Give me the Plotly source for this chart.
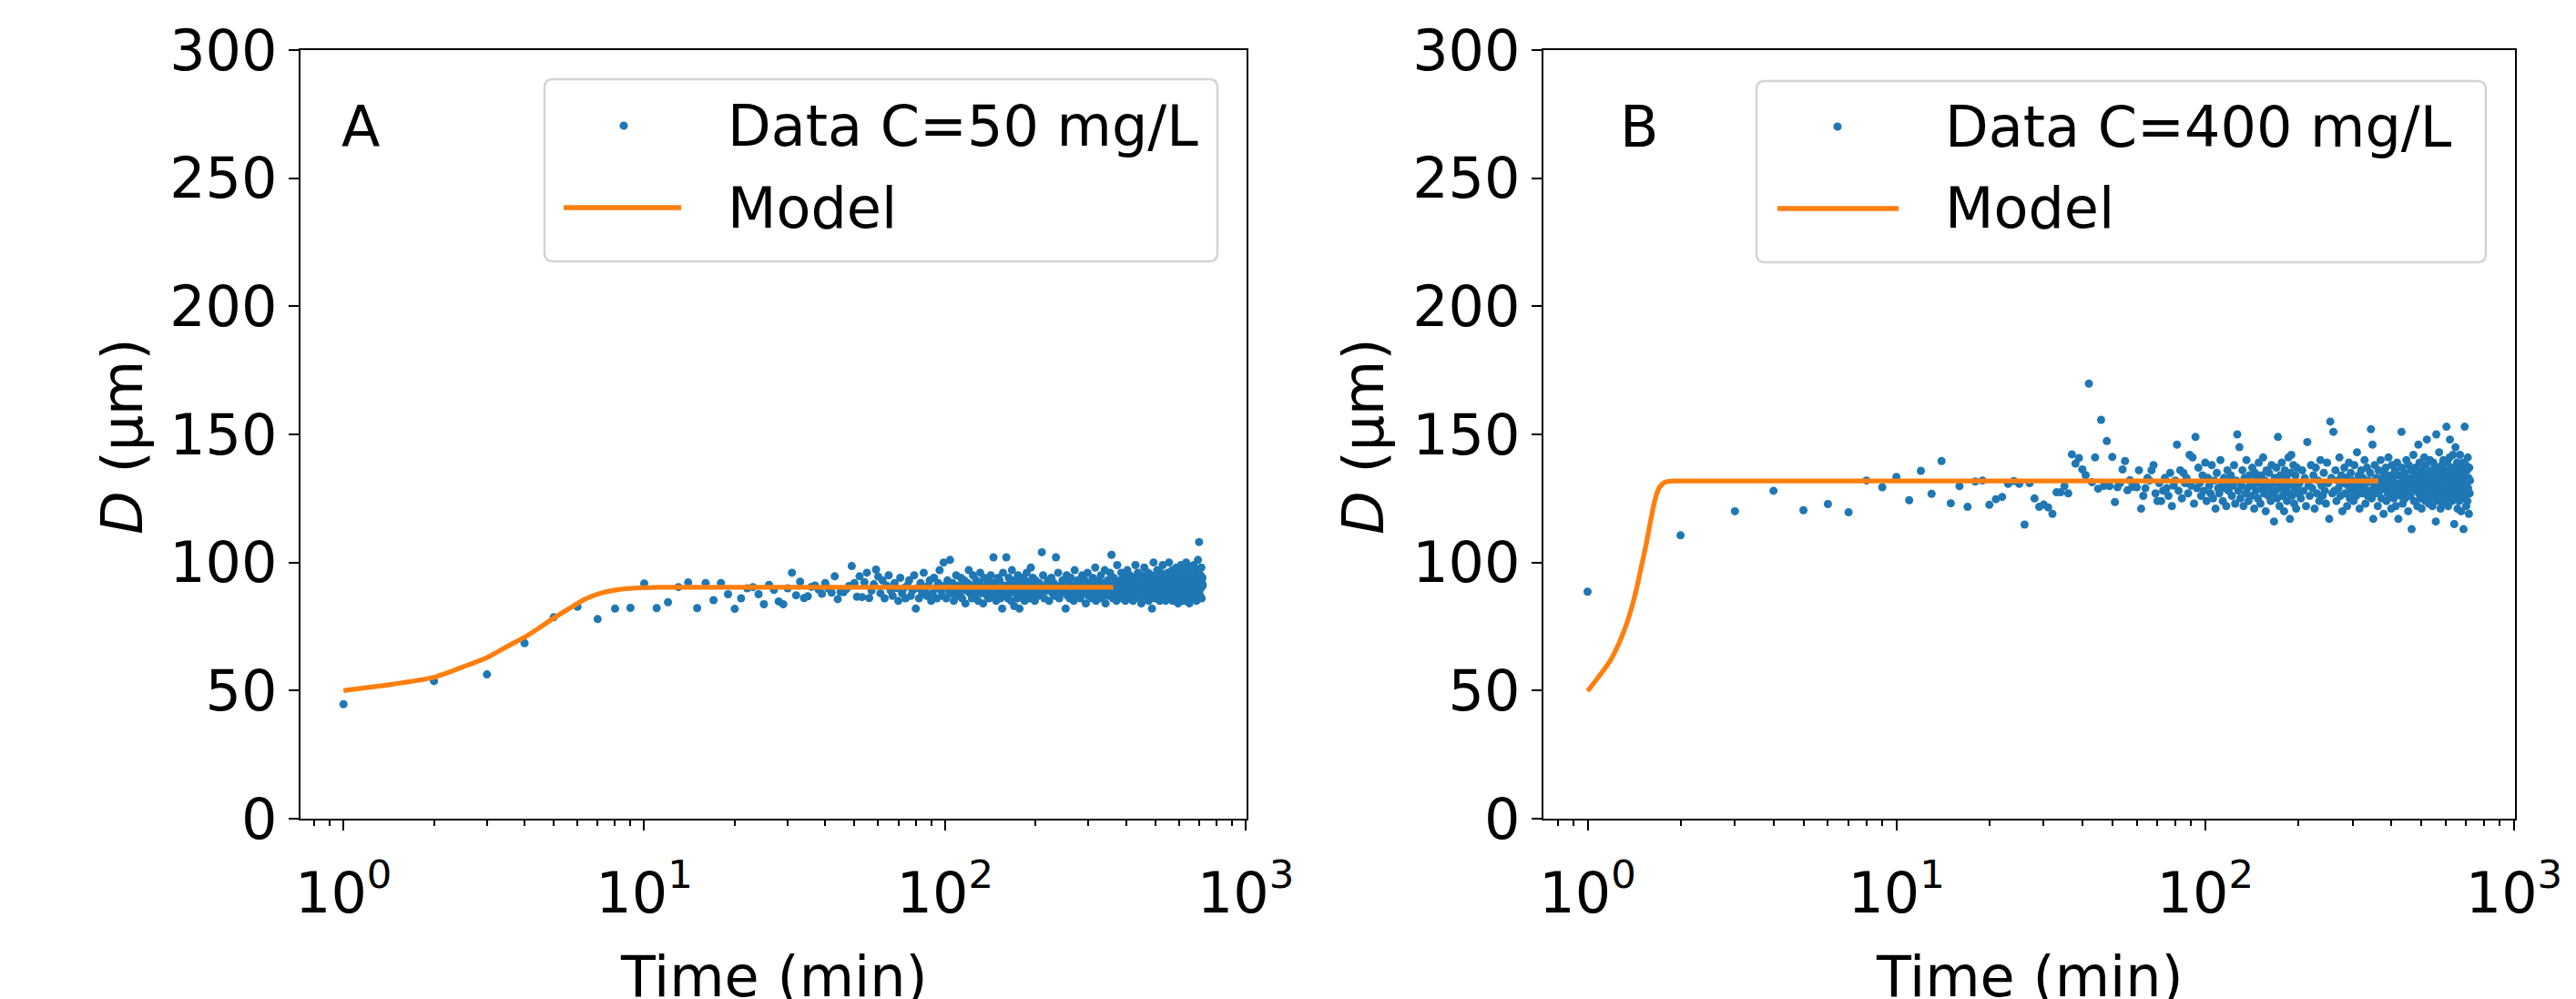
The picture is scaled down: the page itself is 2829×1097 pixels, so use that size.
import plotly.graph_objects as go

# ---------------- data ----------------
time_dense = list(range(1, 201))          # one sample per minute up to 200 min
time_sparse = list(range(202, 721, 2))    # later samples (every 2 min shown)
time_all = time_dense + time_sparse

diam_a_early = [
    44.7, 53.7, 56.3, 68.5, 78.6, 82.7, 77.9, 82.0, 82.3, 91.8,
    82.2, 84.5, 90.4, 92.2, 82.2, 92.0, 85.3, 92.0, 87.6, 81.9,
    86.0, 89.9, 90.4, 87.6, 83.7, 91.3, 89.3, 84.8, 83.7, 89.9,
    96.0, 87.2, 92.5, 86.1, 86.8, 90.5, 91.0, 89.5, 87.8, 92.0,
    89.8, 88.2, 94.6, 85.7, 88.5, 88.4, 89.6, 90.8, 98.6, 92.0,
    86.6, 94.6, 86.5, 92.3, 96.0, 86.1, 89.0, 91.5, 97.2, 94.5,
]
diam_a_mid = [
    88, 93, 86, 91, 95, 89, 87, 92, 90, 85,
    94, 88, 90, 86, 91, 93, 87, 89, 95, 82,
    90, 86, 92, 88, 96, 89, 87, 91, 93, 85,
    88, 94, 90, 86, 92, 97, 89, 87, 100, 91,
    86, 93, 89, 101, 88, 92, 85, 90, 95, 87,
    91, 88, 94, 86, 90, 93, 84, 89, 92, 97,
    88, 91, 86, 95, 90, 87, 93, 89, 85, 92,
    96, 88, 90, 84, 94, 89, 91, 87, 93, 86,
    90, 95, 88, 92, 102, 87, 91, 85, 89, 94,
    88, 93, 86, 90, 82, 96, 89, 91, 87, 102,
    90, 86, 94, 88, 92, 85, 97, 89, 91, 83,
    93, 88, 90, 86, 95, 89, 82, 92, 87, 91,
    94, 88, 90, 85, 93, 89, 96, 87, 91, 86,
    92, 89, 98, 86, 90, 94, 88, 91, 85, 93,
]
diam_a_late = [
    90, 87, 92, 88, 104, 95, 86, 91, 89, 93,
    85, 90, 94, 88, 92, 87, 102, 89, 96, 86,
    91, 88, 93, 90, 89, 82, 95, 87, 92, 86,
    94, 89, 91, 85, 97, 88, 90, 93, 87, 92,
    86, 90, 95, 89, 88, 93, 84, 91, 96, 87,
    92, 88, 90, 86, 94, 89, 91, 98, 85, 90,
    93, 87, 91, 89, 95, 86, 92, 88, 90, 97,
    84, 91, 89, 93, 87, 90, 96, 88, 103, 92,
    86, 94, 90, 88, 92, 85, 99, 89, 91, 87,
    93, 88, 96, 90, 86, 92, 89, 94, 85, 91,
    90, 97, 87, 92, 88, 95, 86, 91, 89, 93,
    85, 90, 94, 88, 99, 87, 92, 89, 96, 86,
    91, 88, 93, 90, 84, 95, 89, 92, 87, 98,
    90, 86, 94, 88, 92, 89, 96, 85, 91, 93,
    88, 90, 95, 82, 92, 87, 100, 89, 91, 86,
    94, 88, 90, 97, 86, 92, 89, 93, 85, 91,
    96, 88, 90, 87, 99, 92, 86, 94, 89, 91,
    85, 93, 90, 88, 96, 87, 92, 100, 89, 86,
    91, 94, 88, 90, 97, 85, 92, 89, 95, 87,
    90, 93, 86, 98, 91, 88, 94, 84, 92, 89,
    96, 87, 91, 90, 99, 86, 93, 88, 95, 92,
    85, 90, 97, 89, 92, 87, 100, 91, 88, 94,
    86, 93, 90, 96, 84, 92, 89, 98, 87, 91,
    95, 88, 92, 90, 86, 99, 93, 89, 91, 87,
    94, 90, 85, 97, 92, 88, 101, 91, 96, 108,
    89, 93, 87, 95, 90, 98, 86, 92, 94, 91,
]

diam_b_early = [
    88.6, 110.6, 120.0, 128.0, 120.4, 122.8, 119.6, 132.0, 129.4, 133.4,
    124.3, 135.8, 126.8, 139.6, 123.1, 129.8, 121.7, 131.6, 132.0, 122.5,
    124.7, 125.6, 130.7, 131.8, 130.7, 114.8, 131.0, 125.0, 121.7, 122.6,
    121.5, 119.0, 127.4, 127.4, 129.8, 127.0, 142.2, 138.6, 140.8, 136.3,
    134.1, 169.8, 131.3, 141.0, 128.8, 155.7, 129.9, 147.4, 129.8, 141.2,
    123.6, 129.4, 131.0, 136.3, 139.6, 128.2, 132.1, 129.5, 131.0, 129.4,
]
diam_b_mid = [
    136, 121, 126, 129, 133, 132, 136, 138, 127, 124,
    131, 124, 128, 133, 129, 126, 135, 122, 130, 132,
    146, 128, 136, 125, 135, 131, 133, 127, 142, 130,
    141, 123, 149, 129, 137, 131, 126, 134, 128, 139,
    124, 133, 130, 127, 138, 125, 132, 121, 135, 129,
    127, 140, 131, 124, 133, 129, 122, 136, 128, 131,
    134, 126, 130, 138, 123, 132, 150, 128, 145, 125,
    130, 136, 122, 133, 127, 140, 129, 124, 134, 131,
    126, 137, 130, 121, 135, 128, 133, 125, 139, 131,
    123, 134, 129, 141, 127, 132, 120, 136, 130, 126,
    135, 129, 124, 138, 131, 127, 116, 133, 128, 137,
    125, 149, 130, 122, 134, 129, 139, 126, 132, 120,
    136, 128, 133, 124, 130, 141, 127, 117, 135, 142,
    126, 131, 138, 123, 129, 134, 121, 137, 130, 127,
]
diam_b_late = [
    131, 125, 136, 128, 133, 122, 147, 130, 126, 138,
    129, 134, 121, 137, 127, 132, 124, 140, 130, 126,
    135, 128, 123, 139, 131, 117, 155, 133, 127, 151,
    128, 136, 124, 132, 129, 141, 126, 134, 120, 131,
    137, 127, 133, 122, 130, 139, 125, 135, 128, 132,
    124, 138, 130, 126, 143, 129, 134, 121, 131, 136,
    127, 133, 129, 140, 123, 131, 137, 126, 132, 128,
    135, 152, 125, 146, 117, 130, 138, 127, 133, 129,
    122, 136, 131, 128, 140, 125, 133, 130, 119, 135,
    129, 137, 124, 132, 127, 141, 130, 126, 134, 121,
    138, 128, 133, 125, 131, 136, 122, 130, 139, 127,
    117, 134, 129, 131, 126, 151, 137, 123, 132, 128,
    135, 125, 130, 140, 127, 133, 120, 138, 129, 131,
    126, 136, 113, 132, 129, 142, 124, 134, 130, 137,
    128, 133, 122, 131, 146, 127, 139, 125, 135, 130,
    121, 136, 129, 133, 126, 141, 131, 124, 138, 128,
    148, 132, 127, 135, 123, 130, 140, 126, 133, 129,
    136, 122, 131, 139, 128, 134, 125, 130, 116, 150,
    127, 137, 132, 124, 130, 143, 129, 135, 121, 133,
    128, 138, 126, 131, 140, 123, 134, 129, 136, 125,
    132, 153, 127, 139, 130, 122, 135, 128, 141, 148,
    126, 133, 129, 137, 124, 131, 142, 127, 134, 115,
    130, 136, 145, 125, 132, 128, 139, 121, 133, 129,
    137, 124, 131, 142, 127, 134, 120, 136, 130, 126,
    133, 139, 113, 128, 135, 153, 125, 131, 138, 122,
    130, 136, 124, 141, 129, 133, 119, 137, 127, 132,
]

diam_a = diam_a_early + diam_a_mid + diam_a_late
diam_b = diam_b_early + diam_b_mid + diam_b_late

model_a_t = [1, 1.4, 2, 2.5, 3, 3.55, 4, 4.48, 5, 5.66, 6.36, 7.14, 8.03, 9.02,
             11.4, 20, 50, 100, 200, 363]
model_a_d = [50, 52.2, 55.2, 59.3, 62.9, 67.6, 70.8, 74.5, 78.3, 82.2, 85.7, 88.0,
             89.3, 89.9, 90.3, 90.3, 90.3, 90.3, 90.3, 90.3]
model_b_t = [1, 1.081, 1.183, 1.266, 1.34, 1.402, 1.45, 1.5, 1.552, 1.606, 1.653,
             1.706, 1.777, 1.9, 2.1, 5, 20, 100, 363]
model_b_d = [49.8, 55.1, 61.6, 68.7, 76.3, 84.1, 91.3, 99.5, 107.8, 117.3, 124.4,
             129.2, 131.3, 131.8, 131.8, 131.8, 131.8, 131.8, 131.8]

x_tick_vals = [1, 10, 100, 1000]
x_tick_text = ["10<sup>0</sup>", "10<sup>1</sup>", "10<sup>2</sup>", "10<sup>3</sup>"]
x_minor_vals = [0.8, 0.9] + [m * d for d in (1, 10, 100) for m in range(2, 10)]
y_tick_vals = [0, 50, 100, 150, 200, 250, 300]

labels_data = ["Data C=50 mg/L", "Data C=400 mg/L"]
label_model = "Model"
panel_letters = ["A", "B"]

# ---------------- figure ----------------
BLUE = "#1f77b4"
ORANGE = "#ff7f0e"
FONT = "DejaVu Sans"
FS = 62
W, H = 2829, 1097
MT, MB = 55, 198
PH = H - MT - MB


def px(xpx):
    return xpx / W


def py(ypx):
    return (H - MB - ypx) / PH


fig = go.Figure()
fig.add_trace(go.Scatter(x=time_all, y=diam_a, mode="markers", name=labels_data[0],
                         marker=dict(color=BLUE, size=9), xaxis="x", yaxis="y"))
fig.add_trace(go.Scatter(x=model_a_t, y=model_a_d, mode="lines", name=label_model,
                         line=dict(color=ORANGE, width=5.3, shape="spline", smoothing=0.6),
                         xaxis="x", yaxis="y"))
fig.add_trace(go.Scatter(x=time_all, y=diam_b, mode="markers", name=labels_data[1],
                         marker=dict(color=BLUE, size=9), xaxis="x2", yaxis="y2"))
fig.add_trace(go.Scatter(x=model_b_t, y=model_b_d, mode="lines", name=label_model,
                         line=dict(color=ORANGE, width=5.3, shape="spline", smoothing=1.0),
                         xaxis="x2", yaxis="y2"))

axis_common = dict(showline=True, linecolor="black", linewidth=2.2, mirror=True,
                   ticks="outside", ticklen=11, tickwidth=2.2, tickcolor="black",
                   showgrid=False, zeroline=False, automargin=False,
                   tickfont=dict(family=FONT, size=FS, color="black"))

xa = dict(axis_common, type="log", range=[-0.143, 3.003], tickmode="array",
          tickvals=x_tick_vals, ticktext=x_tick_text, ticklabelstandoff=15,
          minor=dict(ticks="outside", ticklen=6, tickwidth=1.7, tickcolor="black",
                     tickmode="array", tickvals=x_minor_vals, showgrid=False))
ya = dict(axis_common, range=[0, 300], tickmode="array", tickvals=y_tick_vals)

dom_a = [330 / W, 1369 / W]
dom_b = [1695 / W, 2762 / W]

fig.update_layout(
    width=W, height=H, autosize=False,
    margin=dict(l=0, r=0, t=MT, b=MB, pad=0),
    paper_bgcolor="white", plot_bgcolor="white",
    font=dict(family=FONT, size=FS, color="black"),
    xaxis=dict(xa, domain=dom_a, anchor="y"),
    yaxis=dict(ya, domain=[0, 1], anchor="x"),
    xaxis2=dict(xa, domain=dom_b, anchor="y2"),
    yaxis2=dict(ya, domain=[0, 1], anchor="x2"),
    showlegend=False,
)

# ---------- hand-built legends (matplotlib-like frame) ----------
def rounded_rect(x0, y0, x1, y1, r):
    # pixel coords -> paper-coordinate SVG path with rounded corners
    def P(x, y):
        return f"{px(x):.6f},{py(y):.6f}"
    return (f"M{P(x0 + r, y0)} L{P(x1 - r, y0)} Q{P(x1, y0)} {P(x1, y0 + r)} "
            f"L{P(x1, y1 - r)} Q{P(x1, y1)} {P(x1 - r, y1)} "
            f"L{P(x0 + r, y1)} Q{P(x0, y1)} {P(x0, y1 - r)} "
            f"L{P(x0, y0 + r)} Q{P(x0, y0)} {P(x0 + r, y0)} Z")


legend_specs = [
    # box x0, y0, x1, y1, marker x, row1 y, line x0, line x1, row2 y, text x
    dict(box=(598, 87, 1337, 287), mx=685, r1=138, lx0=619, lx1=748, r2=228, tx=797,
         label=labels_data[0]),
    dict(box=(1929, 89, 2730, 288), mx=2018, r1=139, lx0=1952, lx1=2085, r2=229, tx=2134,
         label=labels_data[1]),
]

shapes = []
annots = []
for spec in legend_specs:
    x0, y0, x1, y1 = spec["box"]
    shapes.append(dict(type="path", path=rounded_rect(x0, y0, x1, y1, 9),
                       xref="paper", yref="paper", fillcolor="rgba(255,255,255,0.8)",
                       line=dict(color="#d4d4d4", width=2.5), layer="above"))
    rad = 4.6
    shapes.append(dict(type="circle", xref="paper", yref="paper",
                       x0=px(spec["mx"] - rad), x1=px(spec["mx"] + rad),
                       y0=py(spec["r1"] + rad), y1=py(spec["r1"] - rad),
                       fillcolor=BLUE, line=dict(width=0), layer="above"))
    shapes.append(dict(type="line", xref="paper", yref="paper",
                       x0=px(spec["lx0"]), x1=px(spec["lx1"]),
                       y0=py(spec["r2"]), y1=py(spec["r2"]),
                       line=dict(color=ORANGE, width=5.3), layer="above"))
    annots.append(dict(text=spec["label"], x=px(spec["tx"]), y=py(spec["r1"]),
                       xref="paper", yref="paper", showarrow=False,
                       xanchor="left", yanchor="middle", font=dict(family=FONT, size=FS)))
    annots.append(dict(text=label_model, x=px(spec["tx"]), y=py(spec["r2"]),
                       xref="paper", yref="paper", showarrow=False,
                       xanchor="left", yanchor="middle", font=dict(family=FONT, size=FS)))

for i, (xc_plot, ylab_x, letter_x) in enumerate([(849.5, 134, 396), (2228.5, 1497, 1800)]):
    annots.append(dict(text="Time (min)", x=xc_plot / W, y=py(1072), xref="paper", yref="paper",
                       showarrow=False, xanchor="center", yanchor="middle",
                       font=dict(family=FONT, size=FS)))
    annots.append(dict(text="<i>D</i> (µm)", x=ylab_x / W, y=py(479), xref="paper", yref="paper",
                       showarrow=False, xanchor="center", yanchor="middle", textangle=-90,
                       font=dict(family=FONT, size=FS)))
    annots.append(dict(text=panel_letters[i], x=letter_x / W, y=py(140), xref="paper", yref="paper",
                       showarrow=False, xanchor="center", yanchor="middle",
                       font=dict(family=FONT, size=FS)))

fig.update_layout(shapes=shapes, annotations=annots)

fig.write_html("out.html", config={"displayModeBar": False},
               post_script="document.body.style.margin='0';")
